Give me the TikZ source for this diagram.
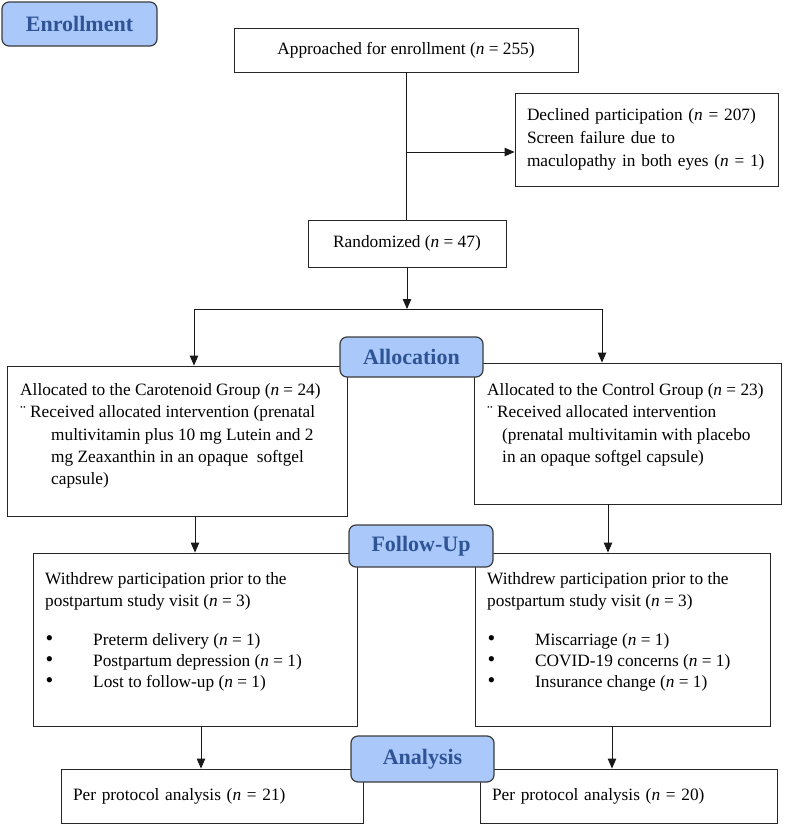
\documentclass[tikz,border=0pt]{standalone}
\usepackage{fontspec}
\setmainfont{Liberation Serif}
\usetikzlibrary{arrows.meta}
\newcommand\bodyfs{\fontsize{17.3}{22.3}\selectfont}
\newcommand\stagefs{\fontsize{22}{26}\selectfont\bfseries}
\newcommand\dia{\makebox[10pt][l]{¨}}
\newcommand\bul{\hspace*{0.5pt}\makebox[47.5pt][l]{\fontsize{22}{22.3}\selectfont •}}
\definecolor{stagefill}{RGB}{170,200,250}
\definecolor{stagetext}{RGB}{46,84,150}
\definecolor{stageborder}{RGB}{60,60,60}
\begin{document}
\begin{tikzpicture}[x=1pt,y=-1pt,
  box/.style={draw=black!85, line width=0.9pt, inner sep=0pt, font=\bodyfs},
  stage/.style={draw=stageborder, line width=1.2pt, fill=stagefill, rounded corners=7pt, font=\stagefs, text=stagetext, inner sep=0pt},
  txt/.style={font=\bodyfs, align=left, inner sep=0pt, anchor=north west},
  conn/.style={line width=0.9pt, draw=black!90},
  arr/.style={conn, -{Triangle[width=8.5pt,length=10pt]}}]

\useasboundingbox (0,0) rectangle (788,825);

% boxes
\node[box, minimum width=344pt, minimum height=44pt] (app) at (406,50) {\raisebox{-2pt}{Approached for enrollment (\textit{n} = 255)}};
\node[box, minimum width=263pt, minimum height=93pt, text width=239pt, align=left, font=\fontsize{17.3}{23}\selectfont] (decl) at (646.5,139.5)
  {Declined participation (\textit{n} = 207)\\ Screen failure due to\\ maculopathy in both eyes (\textit{n} = 1)};
\node[box, minimum width=198pt, minimum height=47pt] (rand) at (407,243.5) {Randomized (\textit{n} = 47)};

\node[box, minimum width=340pt, minimum height=150pt] (caro) at (177,441) {};
\node[txt] (carotxt) at (20,379.6) {\strut Allocated to the Carotenoid Group (\textit{n} = 24)\\
  \dia Received allocated intervention (prenatal\\
  \hspace*{31pt}multivitamin plus 10 mg Lutein and 2\\
  \hspace*{31pt}mg Zeaxanthin in an opaque\ \ softgel\\
  \hspace*{31pt}capsule)};

\node[box, minimum width=307pt, minimum height=141pt] (ctrl) at (627.5,433.5) {};
\node[txt] (ctrltxt) at (487,379.6) {\strut Allocated to the Control Group (\textit{n} = 23)\\
  \dia Received allocated intervention\\
  \hspace*{15pt}(prenatal multivitamin with placebo\\
  \hspace*{15pt}in an opaque softgel capsule)};

\node[box, minimum width=324pt, minimum height=173pt] (ful) at (195,639.5) {};
\node[txt] (fultxt) at (45,568.6) {\strut Withdrew participation prior to the\\
  postpartum study visit (\textit{n} = 3)\\[16.7pt]
  \bul Preterm delivery (\textit{n} = 1)\\[-1.3pt]
  \bul Postpartum depression (\textit{n} = 1)\\[-1.3pt]
  \bul Lost to follow-up (\textit{n} = 1)};

\node[box, minimum width=295pt, minimum height=173pt] (fur) at (622.5,639.5) {};
\node[txt] (furtxt) at (487,568.6) {\strut Withdrew participation prior to the\\
  postpartum study visit (\textit{n} = 3)\\[16.7pt]
  \bul Miscarriage (\textit{n} = 1)\\[-1.3pt]
  \bul COVID-19 concerns (\textit{n} = 1)\\[-1.3pt]
  \bul Insurance change (\textit{n} = 1)};

\node[box, minimum width=302pt, minimum height=54pt, text width=278pt, align=left] (anl) at (212,796) {Per protocol analysis (\textit{n} = 21)};
\node[box, minimum width=297pt, minimum height=54pt, text width=273pt, align=left] (anr) at (628.5,796) {Per protocol analysis (\textit{n} = 20)};

% connectors
\coordinate (branch) at (406,152);
\coordinate (splitL) at (194,309);
\coordinate (splitR) at (602,309);
\coordinate (colA) at (195,0);
\coordinate (colB) at (608,0);
\coordinate (colC) at (201,0);
\coordinate (colD) at (612,0);

\draw[conn] (app.south) -- (app.south |- rand.north);
\draw[arr] (branch) -- (branch -| decl.west);
\draw[arr] (rand.south) -- (rand.south |- splitL);
\draw[conn] (splitL) -- (splitR);
\draw[arr] (splitL) -- (splitL |- caro.north);
\draw[arr] (splitR) -- (splitR |- ctrl.north);
\draw[arr] (colA |- caro.south) -- (colA |- ful.north);
\draw[arr] (colB |- ctrl.south) -- (colB |- fur.north);
\draw[arr] (colC |- ful.south) -- (colC |- anl.north);
\draw[arr] (colD |- fur.south) -- (colD |- anr.north);

% stage labels
\node[stage, minimum width=155pt, minimum height=44pt] (enr) at (79.5,24) {Enrollment};
\node[stage, minimum width=143pt, minimum height=40pt] (alloc) at (411.5,357) {Allocation};
\node[stage, minimum width=144pt, minimum height=42pt] (fup) at (421,546) {Follow-Up};
\node[stage, minimum width=143pt, minimum height=46pt] (ana) at (422.5,759) {Analysis};
\end{tikzpicture}
\end{document}
